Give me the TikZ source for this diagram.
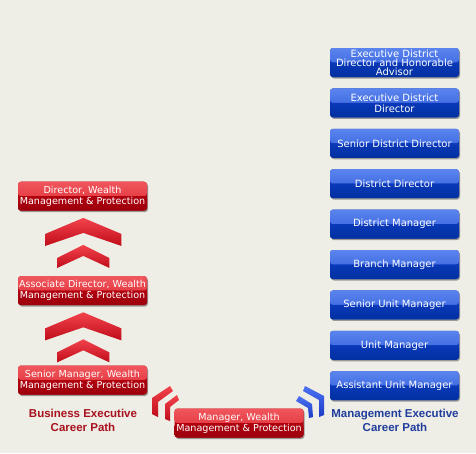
\documentclass[tikz,border=0pt]{standalone}
\usepackage{fontspec}
\setmainfont{DejaVu Sans}
\newfontfamily\pathfont{Liberation Sans}
\usetikzlibrary{positioning, shadows, calc}

\definecolor{bgcol}{HTML}{EEEDE6}
\definecolor{redtop}{HTML}{F0575D}
\definecolor{redmid}{HTML}{DC2630}
\definecolor{redlow}{HTML}{B0000E}
\definecolor{redbot}{HTML}{9C000C}
\definecolor{bluetop}{HTML}{5B84EE}
\definecolor{bluemid}{HTML}{2C5AD8}
\definecolor{bluelow}{HTML}{0A38B8}
\definecolor{bluebot}{HTML}{0030A0}
\definecolor{chevtop}{HTML}{F2434C}
\definecolor{chevbot}{HTML}{C00C1A}
\definecolor{bchevtop}{HTML}{4C72F2}
\definecolor{bchevbot}{HTML}{1A3AC4}
\definecolor{pathred}{HTML}{A8101C}
\definecolor{pathblue}{HTML}{1F3D9C}

\tikzset{
  careerbox/.style={rounded corners=3pt, minimum width=129pt, minimum height=29pt,
    inner sep=1pt, align=center, text=white, font=\fontsize{9.6}{11}\selectfont,
    drop shadow={shadow xshift=1pt, shadow yshift=-1.5pt, opacity=0.35, fill=black}},
  redbox/.style={careerbox, fill=redlow, path picture={
      \shade[top color=redtop, bottom color=redmid] (path picture bounding box.north west) rectangle (path picture bounding box.east);
      \shade[top color=redlow, bottom color=redbot] (path picture bounding box.west) rectangle (path picture bounding box.south east);}},
  bluebox/.style={careerbox, fill=bluelow, font=\fontsize{10}{11}\selectfont, path picture={
      \shade[top color=bluetop, bottom color=bluemid] (path picture bounding box.north west) rectangle (path picture bounding box.east);
      \shade[top color=bluelow, bottom color=bluebot] (path picture bounding box.west) rectangle (path picture bounding box.south east);}},
  pathlabel/.style={align=center, font=\pathfont\bfseries\fontsize{11.5}{14}\selectfont},
  upchev/.pic={
    \shade[top color=chevtop, bottom color=chevbot] (0,0) -- (-38,16) -- (-38,28) -- (0,15) -- (38,28) -- (38,16) -- cycle;
    \shade[top color=chevtop, bottom color=chevbot] (0,27) -- (-26,40) -- (-26,50) -- (0,38) -- (26,50) -- (26,40) -- cycle;
  }
}

\begin{document}
\begin{tikzpicture}[x=1pt, y=-1pt]
  \useasboundingbox (0,0) rectangle (476,453);
  \fill[bgcol] (0,0) rectangle (476,453);

  % business executive path
  \node[redbox] (srmgr) at (82.5,380) {Senior Manager, Wealth\\Management \& Protection};
  \node[redbox, above=60pt of srmgr] (assocdir) {Associate Director, Wealth\\Management \& Protection};
  \node[redbox, above=65pt of assocdir] (director) {Director, Wealth\\Management \& Protection};
  \node[redbox] (manager) at (239,423) {Manager, Wealth\\Management \& Protection};

  \pic at ($(director.south)+(0.8,7)$) {upchev};
  \pic at ($(assocdir.south)+(0.8,7)$) {upchev};

  % management executive path
  \node[bluebox, font=\fontsize{10}{9}\selectfont] (edda) at (394.5,62.5) {Executive District\\Director and Honorable\\Advisor};
  \node[bluebox, below=11pt of edda] (edd) {Executive District\\Director};
  \node[bluebox, below=11pt of edd] (sdd) {Senior District Director};
  \node[bluebox, below=11pt of sdd] (dd) {District Director};
  \node[bluebox, below=11pt of dd] (dm) {District Manager};
  \node[bluebox, below=11pt of dm] (bm) {Branch Manager};
  \node[bluebox, below=11pt of bm] (sum) {Senior Unit Manager};
  \node[bluebox, below=11pt of sum] (um) {Unit Manager};
  \node[bluebox, below=11pt of um] (aum) {Assistant Unit Manager};

  % side chevrons
  \shade[top color=chevtop, bottom color=chevbot] (170,386) -- (152,398) -- (152,414) -- (158,417) -- (158,402) -- (173,391) -- cycle;
  \shade[top color=chevtop, bottom color=chevbot] (177,395) -- (165,404) -- (165,419) -- (170,421) -- (170,407) -- (179,400) -- cycle;
  \shade[top color=bchevtop, bottom color=bchevbot] (305,386) -- (324,396) -- (324,415) -- (319,417) -- (319,400) -- (303,391) -- cycle;
  \shade[top color=bchevtop, bottom color=bchevbot] (299,396) -- (312,404) -- (313,417) -- (309,418) -- (308,408) -- (296,401) -- cycle;

  \node[pathlabel, text=pathred] (bizpath) at (83,420) {Business Executive\\Career Path};
  \node[pathlabel, text=pathblue] (mgmtpath) at (395,420) {Management Executive\\Career Path};
\end{tikzpicture}
\end{document}
